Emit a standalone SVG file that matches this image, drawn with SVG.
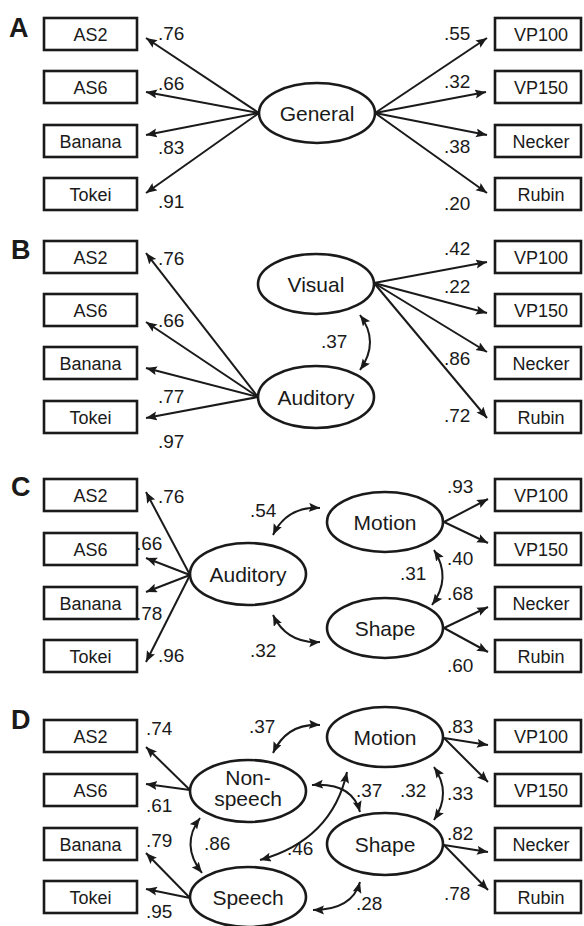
<svg xmlns="http://www.w3.org/2000/svg" width="584" height="926" viewBox="0 0 584 926">
<style>
.box{fill:#fff;stroke:#1a1a1a;stroke-width:2.6}
.ell{fill:#fff;stroke:#1a1a1a;stroke-width:2.6}
.bt{font-family:"Liberation Sans",Arial,sans-serif;font-size:18px;fill:#1a1a1a;text-anchor:middle}
.et{font-family:"Liberation Sans",Arial,sans-serif;font-size:21px;fill:#1a1a1a;text-anchor:middle}
.lb{font-family:"Liberation Sans",Arial,sans-serif;font-size:19px;fill:#1a1a1a}
.pl{font-family:"Liberation Sans",Arial,sans-serif;font-size:27px;font-weight:bold;fill:#1a1a1a}
.ar{fill:none;stroke:#1a1a1a;stroke-width:2;marker-end:url(#ah)}
.dc{fill:none;stroke:#1a1a1a;stroke-width:2;marker-start:url(#ah2);marker-end:url(#ah)}
</style>
<defs>
<marker id="ah" markerUnits="userSpaceOnUse" markerWidth="12" markerHeight="10" refX="11" refY="4.5" orient="auto">
<path d="M0,0 L11,4.5 L0,9 L2,4.5 z" fill="#1a1a1a"/>
</marker>
<marker id="ah2" markerUnits="userSpaceOnUse" markerWidth="12" markerHeight="10" refX="11" refY="4.5" orient="auto-start-reverse">
<path d="M0,0 L11,4.5 L0,9 L2,4.5 z" fill="#1a1a1a"/>
</marker>
</defs>

<g id="panel-labels">
<text class="pl" x="9" y="37">A</text>
<text class="pl" x="11" y="259">B</text>
<text class="pl" x="11" y="496">C</text>
<text class="pl" x="11" y="729">D</text>
</g>

<!-- ===== Panel A ===== -->
<g id="connectors-A">
<line class="ar" x1="259" y1="113" x2="146" y2="38"/>
<line class="ar" x1="259" y1="113" x2="146" y2="92"/>
<line class="ar" x1="259" y1="113" x2="146" y2="135"/>
<line class="ar" x1="259" y1="113" x2="146" y2="193"/>
<line class="ar" x1="375" y1="113" x2="487" y2="38"/>
<line class="ar" x1="375" y1="113" x2="486" y2="92"/>
<line class="ar" x1="375" y1="113" x2="487" y2="135"/>
<line class="ar" x1="375" y1="113" x2="487" y2="193"/>
<text class="lb" x="158" y="40">.76</text>
<text class="lb" x="158" y="90">.66</text>
<text class="lb" x="158" y="154">.83</text>
<text class="lb" x="158" y="208">.91</text>
<text class="lb" x="444" y="40">.55</text>
<text class="lb" x="444" y="88">.32</text>
<text class="lb" x="444" y="153">.38</text>
<text class="lb" x="444" y="210">.20</text>
</g>
<g id="A-AS2"><rect class="box" x="44" y="18" width="93" height="32"/><text class="bt" x="90.5" y="40.5">AS2</text></g>
<g id="A-AS6"><rect class="box" x="44" y="71" width="93" height="32"/><text class="bt" x="90.5" y="93.5">AS6</text></g>
<g id="A-Banana"><rect class="box" x="44" y="125" width="93" height="32"/><text class="bt" x="90.5" y="147.5">Banana</text></g>
<g id="A-Tokei"><rect class="box" x="44" y="178" width="93" height="32"/><text class="bt" x="90.5" y="200.5">Tokei</text></g>
<g id="A-VP100"><rect class="box" x="495" y="18" width="86" height="32"/><text class="bt" x="541" y="40.5">VP100</text></g>
<g id="A-VP150"><rect class="box" x="495" y="71" width="86" height="32"/><text class="bt" x="541" y="93.5">VP150</text></g>
<g id="A-Necker"><rect class="box" x="495" y="125" width="86" height="32"/><text class="bt" x="541" y="147.5">Necker</text></g>
<g id="A-Rubin"><rect class="box" x="495" y="178" width="86" height="32"/><text class="bt" x="541" y="200.5">Rubin</text></g>
<g id="A-General"><ellipse class="ell" cx="317" cy="113" rx="58" ry="30"/><text class="et" x="317" y="120.5">General</text></g>

<!-- ===== Panel B ===== -->
<g id="connectors-B">
<line class="ar" x1="258" y1="397" x2="146" y2="253"/>
<line class="ar" x1="258" y1="397" x2="146" y2="322"/>
<line class="ar" x1="258" y1="397" x2="146" y2="368"/>
<line class="ar" x1="258" y1="397" x2="146" y2="418"/>
<line class="ar" x1="374" y1="283" x2="487" y2="262"/>
<line class="ar" x1="374" y1="283" x2="487" y2="313"/>
<line class="ar" x1="374" y1="283" x2="487" y2="352"/>
<line class="ar" x1="374" y1="283" x2="487" y2="418"/>
<path class="dc" d="M360,315 Q380,342 360,370"/>
<text class="lb" x="158" y="265">.76</text>
<text class="lb" x="158" y="327">.66</text>
<text class="lb" x="158" y="403">.77</text>
<text class="lb" x="158" y="448">.97</text>
<text class="lb" x="444" y="255">.42</text>
<text class="lb" x="444" y="293">.22</text>
<text class="lb" x="444" y="365">.86</text>
<text class="lb" x="444" y="422">.72</text>
<text class="lb" x="321" y="348">.37</text>
</g>
<g id="B-AS2"><rect class="box" x="44" y="241" width="93" height="32"/><text class="bt" x="90.5" y="263.5">AS2</text></g>
<g id="B-AS6"><rect class="box" x="44" y="294" width="93" height="32"/><text class="bt" x="90.5" y="316.5">AS6</text></g>
<g id="B-Banana"><rect class="box" x="44" y="347" width="93" height="32"/><text class="bt" x="90.5" y="369.5">Banana</text></g>
<g id="B-Tokei"><rect class="box" x="44" y="401" width="93" height="32"/><text class="bt" x="90.5" y="423.5">Tokei</text></g>
<g id="B-VP100"><rect class="box" x="495" y="241" width="86" height="32"/><text class="bt" x="541" y="263.5">VP100</text></g>
<g id="B-VP150"><rect class="box" x="495" y="294" width="86" height="32"/><text class="bt" x="541" y="316.5">VP150</text></g>
<g id="B-Necker"><rect class="box" x="495" y="347" width="86" height="32"/><text class="bt" x="541" y="369.5">Necker</text></g>
<g id="B-Rubin"><rect class="box" x="495" y="401" width="86" height="32"/><text class="bt" x="541" y="423.5">Rubin</text></g>
<g id="B-Visual"><ellipse class="ell" cx="316" cy="284" rx="58" ry="30"/><text class="et" x="316" y="291.5">Visual</text></g>
<g id="B-Auditory"><ellipse class="ell" cx="316" cy="397" rx="58" ry="31"/><text class="et" x="316" y="404.5">Auditory</text></g>

<!-- ===== Panel C ===== -->
<g id="connectors-C">
<line class="ar" x1="190" y1="575" x2="146" y2="492"/>
<line class="ar" x1="190" y1="575" x2="146" y2="558"/>
<line class="ar" x1="190" y1="575" x2="146" y2="592"/>
<line class="ar" x1="190" y1="575" x2="146" y2="662"/>
<line class="ar" x1="444" y1="522" x2="488" y2="499"/>
<line class="ar" x1="444" y1="522" x2="488" y2="543"/>
<line class="ar" x1="444" y1="628" x2="488" y2="607"/>
<line class="ar" x1="444" y1="628" x2="488" y2="652"/>
<path class="dc" d="M434,550 Q452,578 432,605"/>
<path class="dc" d="M273,535 Q287,506 320,508"/>
<path class="dc" d="M273,615 Q287,644 320,642"/>
<text class="lb" x="158" y="503">.76</text>
<text class="lb" x="136" y="550">.66</text>
<text class="lb" x="136" y="620">.78</text>
<text class="lb" x="158" y="662">.96</text>
<text class="lb" x="447" y="493">.93</text>
<text class="lb" x="447" y="565">.40</text>
<text class="lb" x="447" y="600">.68</text>
<text class="lb" x="447" y="672">.60</text>
<text class="lb" x="400" y="580">.31</text>
<text class="lb" x="250" y="517">.54</text>
<text class="lb" x="250" y="657">.32</text>
</g>
<g id="C-AS2"><rect class="box" x="44" y="479" width="93" height="32"/><text class="bt" x="90.5" y="501.5">AS2</text></g>
<g id="C-AS6"><rect class="box" x="44" y="533" width="93" height="32"/><text class="bt" x="90.5" y="555.5">AS6</text></g>
<g id="C-Banana"><rect class="box" x="44" y="587" width="93" height="32"/><text class="bt" x="90.5" y="609.5">Banana</text></g>
<g id="C-Tokei"><rect class="box" x="44" y="640" width="93" height="32"/><text class="bt" x="90.5" y="662.5">Tokei</text></g>
<g id="C-VP100"><rect class="box" x="495" y="479" width="86" height="32"/><text class="bt" x="541" y="501.5">VP100</text></g>
<g id="C-VP150"><rect class="box" x="495" y="533" width="86" height="32"/><text class="bt" x="541" y="555.5">VP150</text></g>
<g id="C-Necker"><rect class="box" x="495" y="587" width="86" height="32"/><text class="bt" x="541" y="609.5">Necker</text></g>
<g id="C-Rubin"><rect class="box" x="495" y="640" width="86" height="32"/><text class="bt" x="541" y="662.5">Rubin</text></g>
<g id="C-Auditory"><ellipse class="ell" cx="248" cy="574" rx="58" ry="31"/><text class="et" x="248" y="581.5">Auditory</text></g>
<g id="C-Motion"><ellipse class="ell" cx="385" cy="522" rx="58" ry="30"/><text class="et" x="385" y="529.5">Motion</text></g>
<g id="C-Shape"><ellipse class="ell" cx="385" cy="628" rx="58" ry="30"/><text class="et" x="385" y="635.5">Shape</text></g>

<!-- ===== Panel D ===== -->
<g id="connectors-D">
<line class="ar" x1="190" y1="790" x2="146" y2="747"/>
<line class="ar" x1="190" y1="790" x2="146" y2="784"/>
<line class="ar" x1="190" y1="898" x2="146" y2="853"/>
<line class="ar" x1="190" y1="898" x2="146" y2="889"/>
<line class="ar" x1="444" y1="738" x2="488" y2="745"/>
<line class="ar" x1="444" y1="738" x2="488" y2="782"/>
<line class="ar" x1="444" y1="845" x2="488" y2="852"/>
<line class="ar" x1="444" y1="845" x2="488" y2="890"/>
<path class="dc" d="M200,818 Q180,845 202,873"/>
<path class="dc" d="M434,767 Q452,793 434,820"/>
<path class="dc" d="M273,753 Q287,723 320,725"/>
<path class="dc" d="M312,785 Q352,782 360,812"/>
<path class="dc" d="M260,860 Q332,840 347,772"/>
<path class="dc" d="M313,910 Q352,910 360,882"/>
<text class="lb" x="146" y="735">.74</text>
<text class="lb" x="146" y="812">.61</text>
<text class="lb" x="146" y="847">.79</text>
<text class="lb" x="146" y="918">.95</text>
<text class="lb" x="447" y="733">.83</text>
<text class="lb" x="447" y="800">.33</text>
<text class="lb" x="447" y="840">.82</text>
<text class="lb" x="444" y="900">.78</text>
<text class="lb" x="204" y="850">.86</text>
<text class="lb" x="400" y="797">.32</text>
<text class="lb" x="249" y="733">.37</text>
<text class="lb" x="356" y="797">.37</text>
<text class="lb" x="287" y="855">.46</text>
<text class="lb" x="356" y="910">.28</text>
</g>
<g id="D-AS2"><rect class="box" x="44" y="720" width="93" height="32"/><text class="bt" x="90.5" y="742.5">AS2</text></g>
<g id="D-AS6"><rect class="box" x="44" y="774" width="93" height="32"/><text class="bt" x="90.5" y="796.5">AS6</text></g>
<g id="D-Banana"><rect class="box" x="44" y="828" width="93" height="32"/><text class="bt" x="90.5" y="850.5">Banana</text></g>
<g id="D-Tokei"><rect class="box" x="44" y="881" width="93" height="32"/><text class="bt" x="90.5" y="903.5">Tokei</text></g>
<g id="D-VP100"><rect class="box" x="495" y="720" width="86" height="32"/><text class="bt" x="541" y="742.5">VP100</text></g>
<g id="D-VP150"><rect class="box" x="495" y="774" width="86" height="32"/><text class="bt" x="541" y="796.5">VP150</text></g>
<g id="D-Necker"><rect class="box" x="495" y="828" width="86" height="32"/><text class="bt" x="541" y="850.5">Necker</text></g>
<g id="D-Rubin"><rect class="box" x="495" y="881" width="86" height="32"/><text class="bt" x="541" y="903.5">Rubin</text></g>
<g id="D-Nonspeech"><ellipse class="ell" cx="248" cy="791" rx="58" ry="31"/><text class="et" x="248" y="785">Non-</text><text class="et" x="248" y="806">speech</text></g>
<g id="D-Speech"><ellipse class="ell" cx="248" cy="897" rx="58" ry="30"/><text class="et" x="248" y="904.5">Speech</text></g>
<g id="D-Motion"><ellipse class="ell" cx="385" cy="737" rx="58" ry="30"/><text class="et" x="385" y="744.5">Motion</text></g>
<g id="D-Shape"><ellipse class="ell" cx="385" cy="844" rx="58" ry="31"/><text class="et" x="385" y="851.5">Shape</text></g>
</svg>
